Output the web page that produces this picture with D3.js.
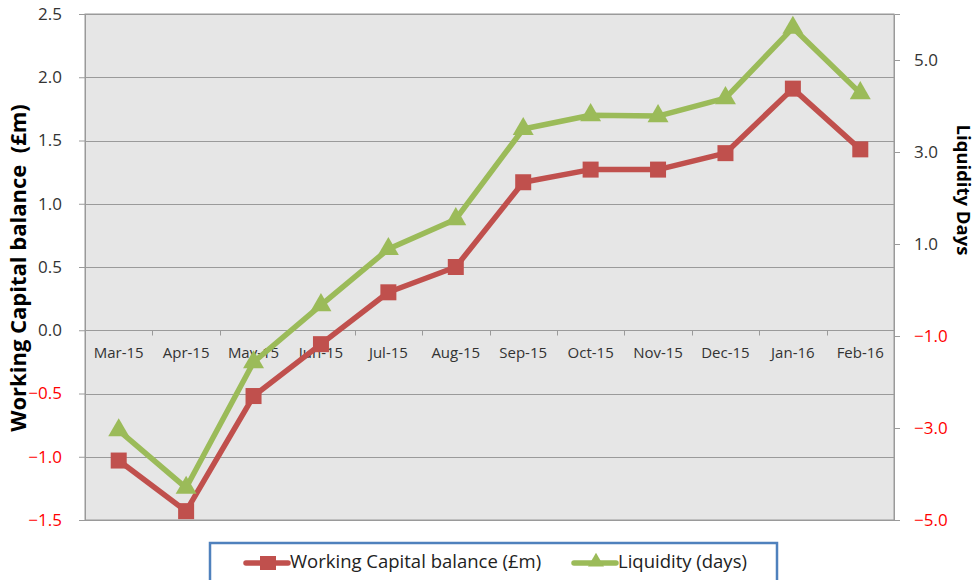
<!DOCTYPE html>
<html>
<head>
<meta charset="utf-8">
<script src="https://cdn.jsdelivr.net/npm/d3@7/dist/d3.min.js"></script>
<style>
body { margin: 0; background: #fff; }
text { font-family: "Open Sans", Lato, sans-serif; }
</style>
</head>
<body>
<div id="chart"></div>
<script>
var months = ["Mar-15", "Apr-15", "May-15", "Jun-15", "Jul-15", "Aug-15",
    "Sep-15", "Oct-15", "Nov-15", "Dec-15", "Jan-16", "Feb-16"];
var workingCapital = [-1.03, -1.43, -0.52, -0.11, 0.30, 0.50, 1.17, 1.27, 1.27, 1.40, 1.91, 1.43];
var liquidity = [-3.05, -4.3, -1.57, -0.33, 0.89, 1.54, 3.5, 3.8, 3.78, 4.17, 5.7, 4.28];
var leftTicks = [-1.5, -1.0, -0.5, 0.0, 0.5, 1.0, 1.5, 2.0, 2.5];
var rightTicks = [-5, -3, -1, 1, 3, 5];

var svgWidth = 978;
var svgHeight = 580;
var margin = { top: 14, right: 84, bottom: 60, left: 85 };
var width = 894 - margin.left;
var height = 520 - margin.top;

var svg = d3.select("#chart")
    .append("svg")
    .attr("width", svgWidth)
    .attr("height", svgHeight);

var g = svg.append("g")
    .attr("transform", `translate(${margin.left}, ${margin.top})`);

var xScale = d3.scaleBand().domain(months).range([0, width]);
var yLeft = d3.scaleLinear().domain([-1.5, 2.5]).range([height, 0]);
var yRight = d3.scaleLinear().domain([-5, 6]).range([height, 0]);

// plot background
g.append("rect")
    .attr("width", width)
    .attr("height", height)
    .attr("fill", "#e6e6e6")
    .attr("stroke", "#9a9a9a");

// gridlines
g.selectAll(".grid")
    .data(leftTicks)
    .enter()
    .append("line")
    .attr("x1", 0)
    .attr("x2", width)
    .attr("y1", d => Math.round(yLeft(d)) + 0.5)
    .attr("y2", d => Math.round(yLeft(d)) + 0.5)
    .attr("stroke", "#9a9a9a")
    .attr("stroke-width", 1);

// left axis
var leftAxis = d3.axisLeft(yLeft).tickValues(leftTicks).tickFormat(d3.format(".1f")).tickSize(6).tickPadding(17);
var la = g.append("g").call(leftAxis);
la.select(".domain").attr("stroke", "#9a9a9a");
la.selectAll(".tick line").attr("stroke", "#9a9a9a");
la.selectAll("text")
    .attr("font-size", "17px")
    .attr("font-family", "'Open Sans', sans-serif")
    .attr("fill", d => d < 0 ? "#ff0000" : "#333");

// right axis
var rightAxis = d3.axisRight(yRight).tickValues(rightTicks).tickFormat(d3.format(".1f")).tickSize(6).tickPadding(14);
var ra = g.append("g").attr("transform", `translate(${width}, 0)`).call(rightAxis);
ra.select(".domain").attr("stroke", "#9a9a9a");
ra.selectAll(".tick line").attr("stroke", "#9a9a9a");
ra.selectAll("text")
    .attr("font-size", "17px")
    .attr("font-family", "'Open Sans', sans-serif")
    .attr("fill", d => d < 0 ? "#ff0000" : "#333");

// x axis at zero
var y0 = Math.round(yLeft(0)) + 0.5;
g.append("line")
    .attr("x1", 0).attr("x2", width)
    .attr("y1", y0).attr("y2", y0)
    .attr("stroke", "#9a9a9a");
g.selectAll(".xtick")
    .data(months.slice(1))
    .enter()
    .append("line")
    .attr("x1", d => Math.round(xScale(d)) + 0.5)
    .attr("x2", d => Math.round(xScale(d)) + 0.5)
    .attr("y1", y0)
    .attr("y2", y0 + 5)
    .attr("stroke", "#9a9a9a");
g.selectAll(".xlabel")
    .data(months)
    .enter()
    .append("text")
    .attr("x", d => xScale(d) + xScale.bandwidth() / 2)
    .attr("y", y0 + 27)
    .attr("text-anchor", "middle")
    .attr("font-size", "15px")
    .attr("fill", "#333")
    .text(d => d);

// lines
var wcLine = d3.line()
    .x((d, i) => xScale(months[i]) + xScale.bandwidth() / 2)
    .y(d => yLeft(d));
var liqLine = d3.line()
    .x((d, i) => xScale(months[i]) + xScale.bandwidth() / 2)
    .y(d => yRight(d));

g.append("path")
    .datum(workingCapital)
    .attr("d", wcLine)
    .attr("fill", "none")
    .attr("stroke", "#c0504d")
    .attr("stroke-width", 5.5)
    .attr("stroke-linejoin", "round");

g.selectAll(".wc")
    .data(workingCapital)
    .enter()
    .append("rect")
    .attr("x", (d, i) => xScale(months[i]) + xScale.bandwidth() / 2 - 8)
    .attr("y", d => yLeft(d) - 8)
    .attr("width", 16)
    .attr("height", 16)
    .attr("fill", "#c0504d");

g.append("path")
    .datum(liquidity)
    .attr("d", liqLine)
    .attr("fill", "none")
    .attr("stroke", "#9bbb59")
    .attr("stroke-width", 5.5)
    .attr("stroke-linejoin", "round");

var tri = d3.symbol().type(d3.symbolTriangle).size(190);
g.selectAll(".liq")
    .data(liquidity)
    .enter()
    .append("path")
    .attr("d", tri)
    .attr("transform", (d, i) => `translate(${xScale(months[i]) + xScale.bandwidth() / 2}, ${yRight(d)})`)
    .attr("fill", "#9bbb59");

// axis titles
svg.append("text")
    .attr("transform", "translate(26, 268) rotate(-90)")
    .attr("text-anchor", "middle")
    .attr("font-size", "22px")
    .attr("font-weight", "bold")
    .attr("fill", "#000")
    .style("white-space", "pre")
    .text("Working Capital balance  (£m)");

svg.append("text")
    .attr("transform", "translate(957, 190) rotate(90)")
    .attr("text-anchor", "middle")
    .attr("font-size", "18.5px")
    .attr("font-weight", "bold")
    .attr("fill", "#000")
    .text("Liquidity Days");

// legend
var legend = svg.append("g");
legend.append("rect")
    .attr("x", 210)
    .attr("y", 543)
    .attr("width", 567)
    .attr("height", 44)
    .attr("fill", "#fff")
    .attr("stroke", "#4f81bd")
    .attr("stroke-width", 2.5);

var items = [
    { label: "Working Capital balance (£m)", color: "#c0504d", x: 246, shape: "square" },
    { label: "Liquidity (days)", color: "#9bbb59", x: 574, shape: "triangle" }
];
items.forEach(function(it) {
    legend.append("line")
        .attr("x1", it.x).attr("x2", it.x + 42)
        .attr("y1", 563).attr("y2", 563)
        .attr("stroke", it.color)
        .attr("stroke-width", 5.5)
        .attr("stroke-linecap", "round");
    if (it.shape === "square") {
        legend.append("rect")
            .attr("x", it.x + 14).attr("y", 556)
            .attr("width", 16).attr("height", 14)
            .attr("fill", it.color);
    } else {
        legend.append("path")
            .attr("d", d3.symbol().type(d3.symbolTriangle).size(110))
            .attr("transform", `translate(${it.x + 22}, 562)`)
            .attr("fill", it.color);
    }
    legend.append("text")
        .attr("x", it.x + 44)
        .attr("y", 568)
        .attr("font-size", "18.5px")
        .attr("fill", "#222")
        .text(it.label);
});
</script>
</body>
</html>
